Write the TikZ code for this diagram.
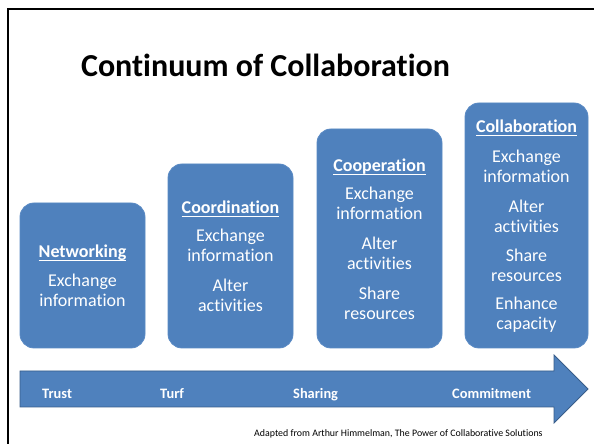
\documentclass[tikz,border=0pt]{standalone}
\usepackage{fontspec}
\setmainfont{Carlito}[Ligatures=NoCommon]
\definecolor{boxblue}{HTML}{4F81BD}
\definecolor{boxedge}{HTML}{5A8AC4}
\definecolor{arrowedge}{HTML}{385D8A}
\newcommand\hdul[1]{\setbox0\hbox{#1}\rlap{\rule[-3.2pt]{\wd0}{1.3pt}}\box0}
\begin{document}
\begin{tikzpicture}[x=1pt,y=1pt,
  stage/.style={draw=boxedge, fill=boxblue, rounded corners=14pt, line width=0.8pt, inner sep=0pt},
  head/.style={text=white, font=\fontsize{18}{20}\selectfont\bfseries, anchor=base, inner sep=0pt},
  item/.style={text=white, font=\fontsize{18}{20}\selectfont, align=center, inner sep=0pt},
  lab/.style={text=white, font=\fontsize{14.4}{16}\selectfont\bfseries, anchor=base west, inner sep=0pt}]
\useasboundingbox (0,0) rectangle (594,444);
\fill[white] (0,0) rectangle (594,444);
\draw[line width=2pt] (7.5,-2) -- (7.5,435) -- (596,435);

\node[font=\fontsize{32}{36}\selectfont\bfseries, anchor=base, inner sep=0pt] (title) at (265.5,367) {Continuum of Collaboration};

% boxes
\node[stage, minimum width=125pt, minimum height=145pt] (net) at (82.5,168.5) {};
\node[stage, minimum width=125pt, minimum height=184pt] (coord) at (230.5,188) {};
\node[stage, minimum width=125pt, minimum height=219pt] (coop) at (379.5,205.5) {};
\node[stage, minimum width=123pt, minimum height=245pt] (collab) at (526.5,218.5) {};

% Networking
\node[head] (nethd) at (82.5,186) {\hdul{Networking}};
\node[item] (net1) at (82.5,153.5) {Exchange\\information};

% Coordination
\node[head] (coordhd) at (230.5,230) {\hdul{Coordination}};
\node[item] (coord1) at (230.5,198.5) {Exchange\\information};
\node[item] (coord2) at (230.5,148.5) {Alter\\activities};

% Cooperation
\node[head] (coophd) at (379.5,272) {\hdul{Cooperation}};
\node[item] (coop1) at (379.5,241) {Exchange\\information};
\node[item] (coop2) at (379.5,190.5) {Alter\\activities};
\node[item] (coop3) at (379.5,140.5) {Share\\resources};

% Collaboration
\node[head] (collabhd) at (526.5,311) {\hdul{Collaboration}};
\node[item] (collab1) at (526.5,277.5) {Exchange\\information};
\node[item] (collab2) at (526.5,227.5) {Alter\\activities};
\node[item] (collab3) at (526.5,178.5) {Share\\resources};
\node[item] (collab4) at (526.5,129) {Enhance\\capacity};

% arrow
\draw[fill=boxblue, draw=arrowedge, line width=0.8pt]
  (20,37) -- (554,37) -- (554,21) -- (588,55) -- (554,89) -- (554,73) -- (20,73) -- cycle;
\node[lab] (trust) at (42,45) {Trust};
\node[lab] (turf) at (160,45) {Turf};
\node[lab] (sharing) at (293,45) {Sharing};
\node[lab] (commit) at (452,45) {Commitment};

\node[font=\fontsize{9.9}{11}\selectfont, anchor=base west, inner sep=0pt] (src) at (254,7.5) {Adapted from Arthur Himmelman, The Power of Collaborative Solutions};
\end{tikzpicture}
\end{document}
